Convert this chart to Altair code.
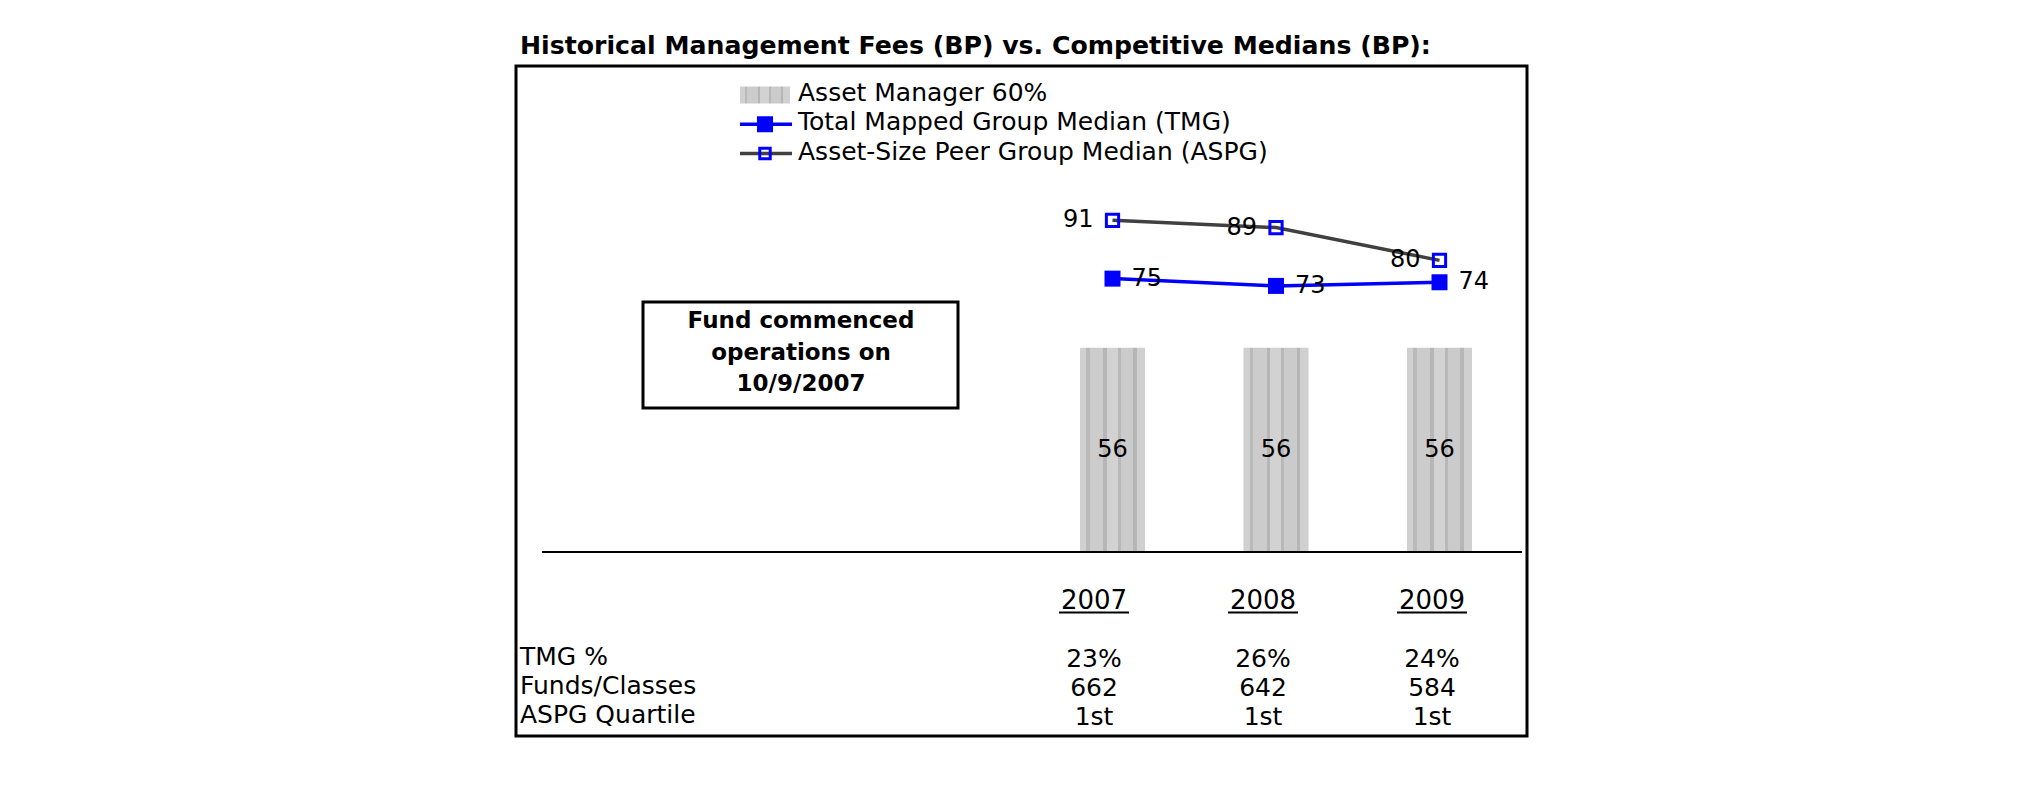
import altair as alt
import pandas as pd

# ---------------- data ----------------
title_text = "Historical Management Fees (BP) vs. Competitive Medians (BP):"
years = ["2007", "2008", "2009"]
asset_manager = [56, 56, 56]
tmg_median = [75, 73, 74]
aspg_median = [91, 89, 80]
tmg_pct = ["23%", "26%", "24%"]
funds_classes = ["662", "642", "584"]
aspg_quartile = ["1st", "1st", "1st"]
row_labels = ["TMG %", "Funds/Classes", "ASPG Quartile"]
legend_labels = [
    "Asset Manager 60%",
    "Total Mapped Group Median (TMG)",
    "Asset-Size Peer Group Median (ASPG)",
]
legend_kinds = ["bar", "tmg", "aspg"]
note_lines = ["Fund commenced", "operations on", "10/9/2007"]
baseline_value = [0]

# ---------------- style ----------------
FONT = "DejaVu Sans"
BLUE = "#0000ff"
DARK = "#404040"
W, H = 1011, 670

stripe_pattern = [
    (0.00, "#d0d0d0"), (0.10, "#d0d0d0"), (0.10, "#bababa"), (0.15, "#bababa"),
    (0.15, "#cccccc"), (0.36, "#cccccc"), (0.36, "#b6b6b6"), (0.41, "#b6b6b6"),
    (0.41, "#d2d2d2"), (0.58, "#d2d2d2"), (0.58, "#b8b8b8"), (0.63, "#b8b8b8"),
    (0.63, "#cbcbcb"), (0.82, "#cbcbcb"), (0.82, "#b6b6b6"), (0.87, "#b6b6b6"),
    (0.87, "#d0d0d0"), (1.00, "#d0d0d0"),
]
pattern_fill = alt.LinearGradient(
    gradient="linear", x1=0, x2=1, y1=0, y2=0,
    stops=[alt.GradientStop(offset=o, color=c) for o, c in stripe_pattern],
)

# ---------------- scales ----------------
x_bar = alt.Scale(type="band", domain=years, range=[482.25, 1037.75],
                  paddingInner=0.6024, paddingOuter=0.5)
y_val = alt.Scale(domain=[-50.48, 133.33], nice=False, zero=False)
x_tab = alt.Scale(type="point", domain=years, range=[578, 916], padding=0)
tab_rows = ["Year", " "] + row_labels
y_tab = alt.Scale(type="point", domain=tab_rows, range=[535, 651], padding=0)
y_leg = alt.Scale(type="point", domain=legend_labels, range=[29, 87.5], padding=0)

# ---------------- frames ----------------
bars_df = pd.DataFrame({"year": years, "value": asset_manager})
tmg_df = pd.DataFrame({"year": years, "value": tmg_median})
aspg_df = pd.DataFrame({"year": years, "value": aspg_median})
base_df = pd.DataFrame({"zero": baseline_value})

tab_records = []
for i, yv in enumerate(years):
    tab_records.append({"row": "Year", "year": yv, "text": yv})
    tab_records.append({"row": row_labels[0], "year": yv, "text": tmg_pct[i]})
    tab_records.append({"row": row_labels[1], "year": yv, "text": funds_classes[i]})
    tab_records.append({"row": row_labels[2], "year": yv, "text": aspg_quartile[i]})
tab_df = pd.DataFrame(tab_records)
rows_df = pd.DataFrame({"row": row_labels})
leg_df = pd.DataFrame({"label": legend_labels, "kind": legend_kinds})
note_df = pd.DataFrame({"note": ["\n".join(note_lines)]})

# ---------------- layers ----------------
X_bar = alt.X("year:N", scale=x_bar, axis=None)
Y_val = alt.Y("value:Q", scale=y_val, axis=None)

bars = alt.Chart(bars_df).mark_bar(color=pattern_fill).encode(x=X_bar, y=Y_val)
baseline = alt.Chart(base_df).mark_rule(color="black", strokeWidth=2).encode(
    y=alt.Y("zero:Q", scale=y_val, axis=None), x=alt.value(26), x2=alt.value(1006)
)
bar_labels = alt.Chart(bars_df).transform_calculate(mid="datum.value / 2").mark_text(
    font=FONT, fontSize=24, color="black", baseline="middle"
).encode(x=X_bar, y=alt.Y("mid:Q", scale=y_val, axis=None), text="value:Q")

aspg_line = alt.Chart(aspg_df).mark_line(color=DARK, strokeWidth=3.5).encode(x=X_bar, y=Y_val)
aspg_pts = alt.Chart(aspg_df).mark_point(
    shape="square", size=150, filled=False, color=BLUE, strokeWidth=3, opacity=1
).encode(x=X_bar, y=Y_val)
tmg_line = alt.Chart(tmg_df).mark_line(color=BLUE, strokeWidth=3.5).encode(x=X_bar, y=Y_val)
tmg_pts = alt.Chart(tmg_df).mark_square(size=256, color=BLUE, opacity=1).encode(x=X_bar, y=Y_val)

aspg_text = alt.Chart(aspg_df).mark_text(
    font=FONT, fontSize=24, align="right", baseline="middle", dx=-19, color="black"
).encode(x=X_bar, y=Y_val, text="value:Q")
tmg_text = alt.Chart(tmg_df).mark_text(
    font=FONT, fontSize=24, align="left", baseline="middle", dx=19, color="black"
).encode(x=X_bar, y=Y_val, text="value:Q")

# table below the chart
X_tab = alt.X("year:N", scale=x_tab, axis=None)
Y_tab = alt.Y("row:N", scale=y_tab, axis=None)
tab_head = alt.Chart(tab_df).transform_filter("datum.row == 'Year'").mark_text(
    font=FONT, fontSize=26, baseline="middle", color="black"
).encode(x=X_tab, y=Y_tab, text="text:N")
tab_under = alt.Chart(tab_df).transform_filter("datum.row == 'Year'").mark_tick(
    orient="horizontal", size=70, thickness=2, color="black", yOffset=11.5, opacity=1
).encode(x=X_tab, y=Y_tab)
tab_vals = alt.Chart(tab_df).transform_filter("datum.row != 'Year'").mark_text(
    font=FONT, fontSize=25, baseline="middle", color="black"
).encode(x=X_tab, y=Y_tab, text="text:N")
tab_rows_lbl = alt.Chart(rows_df).mark_text(
    font=FONT, fontSize=25, align="left", baseline="middle", dy=-2, color="black"
).encode(x=alt.value(4), y=Y_tab, text="row:N")

# legend
Y_leg = alt.Y("label:N", scale=y_leg, axis=None)
leg_swatch = alt.Chart(leg_df).transform_filter("datum.kind == 'bar'").mark_rect(
    color=pattern_fill, yOffset=-8.5, y2Offset=8.5
).encode(x=alt.value(224), x2=alt.value(274), y=Y_leg, y2=alt.Y2("label"))
leg_lines = alt.Chart(leg_df).transform_filter("datum.kind != 'bar'").mark_rule(
    strokeWidth=3.5
).encode(
    x=alt.value(224), x2=alt.value(276), y=Y_leg,
    color=alt.Color("label:N", scale=alt.Scale(domain=legend_labels[1:], range=[BLUE, DARK]),
                    legend=None),
)
leg_sq_fill = alt.Chart(leg_df).transform_filter("datum.kind == 'tmg'").mark_square(
    size=256, color=BLUE, opacity=1
).encode(x=alt.value(249), y=Y_leg)
leg_sq_open = alt.Chart(leg_df).transform_filter("datum.kind == 'aspg'").mark_point(
    shape="square", size=110, filled=False, color=BLUE, strokeWidth=3, opacity=1
).encode(x=alt.value(249), y=Y_leg)
leg_text = alt.Chart(leg_df).mark_text(
    font=FONT, fontSize=25, align="left", baseline="middle", dy=-2, color="black"
).encode(x=alt.value(282), y=Y_leg, text="label:N")

# annotation box
note_box = alt.Chart(note_df).mark_rect(
    fillOpacity=0, stroke="black", strokeWidth=3
).encode(x=alt.value(127), x2=alt.value(442), y=alt.value(236), y2=alt.value(342))
note_text = alt.Chart(note_df).mark_text(
    font=FONT, fontSize=23, fontWeight="bold", align="center", baseline="alphabetic",
    lineBreak="\n", lineHeight=31.5, color="black"
).encode(x=alt.value(285), y=alt.value(262), text="note:N")

chart = alt.layer(
    bars, baseline, bar_labels, aspg_line, aspg_pts, tmg_line, tmg_pts, aspg_text, tmg_text,
    tab_under, tab_head, tab_vals, tab_rows_lbl,
    leg_swatch, leg_lines, leg_sq_fill, leg_sq_open, leg_text,
    note_box, note_text,
).resolve_scale(
    x="independent", y="independent", color="independent"
).properties(
    width=W, height=H,
    title=alt.TitleParams(title_text, anchor="start", font=FONT, fontSize=25.2,
                          fontWeight="bold", color="black", offset=10, dx=4, dy=23,
                          baseline="alphabetic"),
    padding={"left": 516, "top": 66, "right": 498, "bottom": 70},
    autosize=alt.AutoSizeParams(type="none"),
    background="white",
).configure_view(stroke="black", strokeWidth=3)

chart.save("out.html", embed_options={"renderer": "svg", "actions": False})
